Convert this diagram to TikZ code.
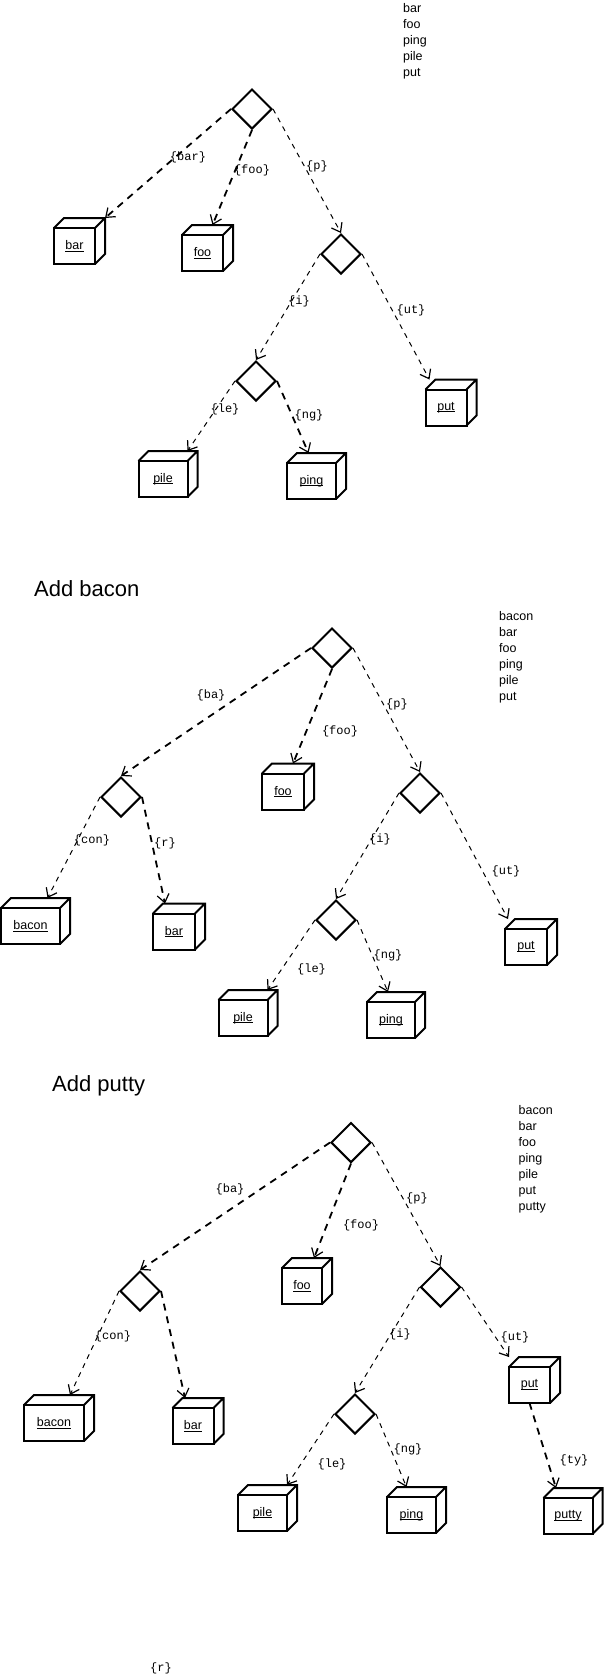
\documentclass[tikz,border=0pt]{standalone}
\usepackage{fontspec}
\setmainfont{Liberation Sans}
\setmonofont{Liberation Mono}
\usetikzlibrary{shapes.geometric,arrows.meta}

\newcommand{\ulword}[1]{\leavevmode\setbox0\hbox{#1}\rlap{\rule[-2pt]{\wd0}{0.9pt}}\box0}

\tikzset{
  split/.style={diamond, draw, line width=2pt, minimum width=40pt, minimum height=40pt, inner sep=0pt},
  leaf/.style={draw, line width=2pt, minimum width=#1, minimum height=36pt, inner sep=0pt, outer sep=0pt,
    font=\fontsize{12.5}{15}\selectfont,
    append after command={\pgfextra{\draw[line width=2pt]
      (\tikzlastnode.north west) -- ++(10pt,10pt) -- ([shift={(10pt,10pt)}]\tikzlastnode.north east)
      -- ([shift={(10pt,10pt)}]\tikzlastnode.south east) -- (\tikzlastnode.south east)
      (\tikzlastnode.north east) -- ++(10pt,10pt);}}},
  leaf/.default=41pt,
  word/.style={anchor=base west, inner sep=0pt, font=\fontsize{12.5}{15}\selectfont},
  title/.style={anchor=base west, inner sep=0pt, font=\fontsize{22}{26}\selectfont},
  key/.style={inner sep=1pt, font=\ttfamily\fontsize{12}{14}\selectfont},
  link/.style={dash pattern=on 5pt off 5pt, line width=1pt, -{Straight Barb[length=8pt,width=12pt,line width=1.2pt]}},
  heavy/.style={link, line width=1.8pt, dash pattern=on 7pt off 6pt}
}

\begin{document}
\begin{tikzpicture}[x=1pt, y=-1pt]
  \useasboundingbox (0,0) rectangle (604,1676);

  % first tree
  \foreach \w [count=\i] in {bar,foo,ping,pile,put}
    \node[word] (list1-\i) at (403,-3.5+16*\i) {\w};

  \node[split] (r1) at (252,109) {};
  \node[split] (p1) at (341,254) {};
  \node[split] (pi1) at (256,381) {};
  \node[leaf] (bar1) at (74.5,246) {\ulword{bar}};
  \node[leaf] (foo1) at (202.5,253) {\ulword{foo}};
  \node[leaf] (put1) at (446,407.5) {\ulword{put}};
  \node[leaf=49pt] (pile1) at (163,479) {\ulword{pile}};
  \node[leaf=49pt] (ping1) at (311.5,481) {\ulword{ping}};

  \draw[heavy] (r1.west) -- ([shift={(10pt,10pt)}]bar1.north east);
  \draw[heavy] (r1.south) -- ([shift={(10pt,10pt)}]foo1.north);
  \draw[link] (r1.east) -- (p1.north);
  \draw[link] (p1.west) -- (pi1.north);
  \draw[link] (p1.east) -- ([shift={(4pt,10pt)}]put1.north west);
  \draw[link] (pi1.west) -- ([yshift=10pt]pile1.north east);
  \draw[heavy] (pi1.east) -- ([shift={(-3pt,10pt)}]ping1.north);

  \node[key] (k1bar) at (188,157) {\{bar\}};
  \node[key] (k1foo) at (252,170) {\{foo\}};
  \node[key] (k1p) at (317,166) {\{p\}};
  \node[key] (k1i) at (299,301) {\{i\}};
  \node[key] (k1ut) at (411,310) {\{ut\}};
  \node[key] (k1le) at (225,409) {\{le\}};
  \node[key] (k1ng) at (309,415) {\{ng\}};

  % second tree
  \node[title] (t2) at (34,596.5) {Add bacon};
  \foreach \w [count=\i] in {bacon,bar,foo,ping,pile,put}
    \node[word] (list2-\i) at (499,604.5+16*\i) {\w};

  \node[split] (r2) at (332,648) {};
  \node[split] (ba2) at (121,797) {};
  \node[split] (p2) at (420,793) {};
  \node[split] (pi2) at (336,920) {};
  \node[leaf=42pt] (foo2) at (283,791.5) {\ulword{foo}};
  \node[leaf=59pt] (bacon2) at (30.5,926) {\ulword{bacon}};
  \node[leaf=42pt] (bar2) at (174,931.5) {\ulword{bar}};
  \node[leaf=42pt] (put2) at (526,947) {\ulword{put}};
  \node[leaf=49pt] (pile2) at (243,1018) {\ulword{pile}};
  \node[leaf=48pt] (ping2) at (391,1020) {\ulword{ping}};

  \draw[heavy] (r2.west) -- (ba2.north);
  \draw[heavy] (r2.south) -- ([shift={(10pt,10pt)}]foo2.north);
  \draw[link] (r2.east) -- (p2.north);
  \draw[link] (ba2.west) -- ([shift={(17pt,10pt)}]bacon2.north);
  \draw[heavy] (ba2.east) -- ([shift={(-9pt,10pt)}]bar2.north);
  \draw[link] (p2.west) -- (pi2.north);
  \draw[link] (p2.east) -- ([shift={(3pt,10pt)}]put2.north west);
  \draw[link] (pi2.west) -- ([yshift=10pt]pile2.north east);
  \draw[link] (pi2.east) -- ([shift={(-3pt,10pt)}]ping2.north);

  \node[key] (k2ba) at (211,695) {\{ba\}};
  \node[key] (k2foo) at (340,731) {\{foo\}};
  \node[key] (k2p) at (397,704) {\{p\}};
  \node[key] (k2con) at (92,840) {\{con\}};
  \node[key] (k2r) at (165,843) {\{r\}};
  \node[key] (k2i) at (380,839) {\{i\}};
  \node[key] (k2ut) at (506,871) {\{ut\}};
  \node[key] (k2le) at (311.5,969) {\{le\}};
  \node[key] (k2ng) at (388,955) {\{ng\}};

  % third tree
  \node[title] (t3) at (52,1091) {Add putty};
  \foreach \w [count=\i] in {bacon,bar,foo,ping,pile,put,putty}
    \node[word] (list3-\i) at (518.5,1098.5+16*\i) {\w};

  \node[split] (r3) at (351,1142.5) {};
  \node[split] (ba3) at (140,1291) {};
  \node[split] (p3) at (440.5,1287) {};
  \node[split] (pi3) at (355,1414) {};
  \node[leaf=40pt] (foo3) at (302,1286) {\ulword{foo}};
  \node[leaf=60pt] (bacon3) at (54,1423) {\ulword{bacon}};
  \node[leaf] (bar3) at (193,1426) {\ulword{bar}};
  \node[leaf] (put3) at (529.5,1385) {\ulword{put}};
  \node[leaf=49pt] (pile3) at (262.5,1513) {\ulword{pile}};
  \node[leaf=49pt] (ping3) at (411.5,1515) {\ulword{ping}};
  \node[leaf=49pt] (putty3) at (568,1516) {\ulword{putty}};

  \draw[heavy] (r3.west) -- (ba3.north);
  \draw[heavy] (r3.south) -- ([shift={(12pt,10pt)}]foo3.north);
  \draw[link] (r3.east) -- (p3.north);
  \draw[link] (ba3.west) -- ([shift={(16pt,10pt)}]bacon3.north);
  \draw[heavy] (ba3.east) -- ([shift={(-8pt,10pt)}]bar3.north);
  \draw[link] (p3.west) -- (pi3.north);
  \draw[link] (p3.east) -- ([shift={(0pt,10pt)}]put3.north west);
  \draw[link] (pi3.west) -- ([yshift=10pt]pile3.north east);
  \draw[link] (pi3.east) -- ([shift={(-5pt,10pt)}]ping3.north);
  \draw[heavy] (put3.south) -- ([shift={(-12pt,10pt)}]putty3.north);

  \node[key] (k3ba) at (230,1189) {\{ba\}};
  \node[key] (k3foo) at (361,1225) {\{foo\}};
  \node[key] (k3p) at (417,1198) {\{p\}};
  \node[key] (k3con) at (113,1336) {\{con\}};
  \node[key] (k3i) at (400,1334) {\{i\}};
  \node[key] (k3ut) at (515,1337) {\{ut\}};
  \node[key] (k3ng) at (408,1449) {\{ng\}};
  \node[key] (k3le) at (332,1464) {\{le\}};
  \node[key] (k3ty) at (574,1460) {\{ty\}};
  \node[key] (k3r) at (161,1668) {\{r\}};
\end{tikzpicture}
\end{document}
